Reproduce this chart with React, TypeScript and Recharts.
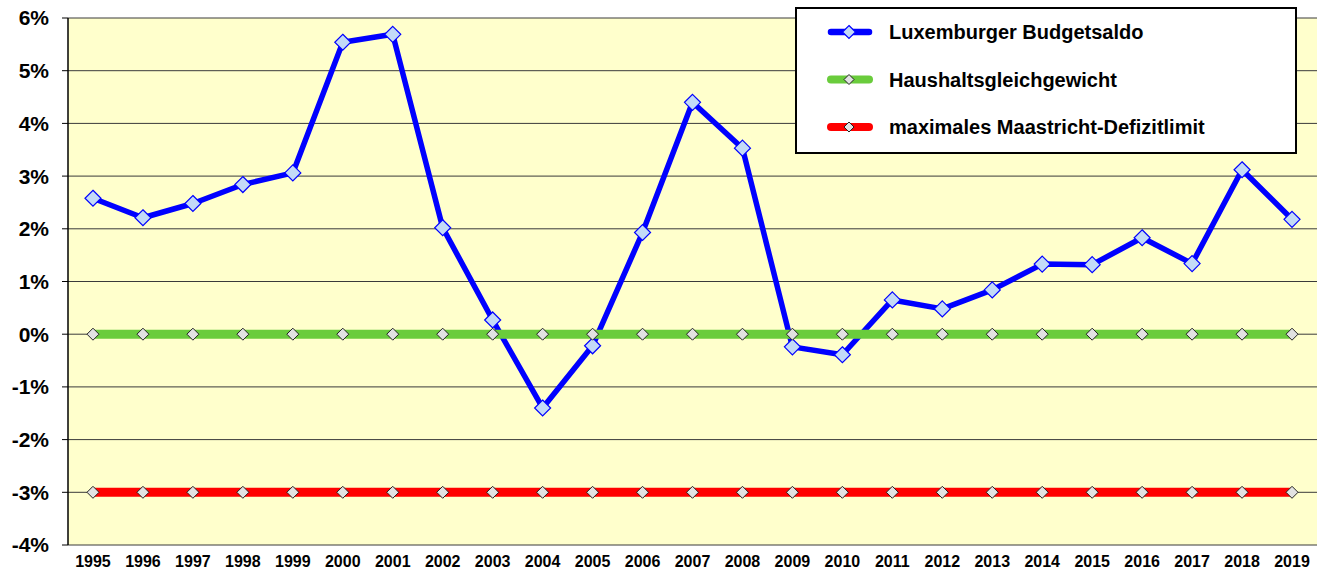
import React from 'react';
import { LineChart, Line, XAxis, YAxis, CartesianGrid, Legend } from 'recharts';

const years = [1995, 1996, 1997, 1998, 1999, 2000, 2001, 2002, 2003, 2004, 2005, 2006, 2007, 2008, 2009, 2010, 2011, 2012, 2013, 2014, 2015, 2016, 2017, 2018, 2019];
const budgetBalance = [2.58, 2.21, 2.48, 2.84, 3.06, 5.54, 5.69, 2.02, 0.27, -1.40, -0.22, 1.93, 4.40, 3.53, -0.24, -0.39, 0.65, 0.48, 0.84, 1.33, 1.32, 1.83, 1.34, 3.12, 2.18];
const equilibrium = [0, 0, 0, 0, 0, 0, 0, 0, 0, 0, 0, 0, 0, 0, 0, 0, 0, 0, 0, 0, 0, 0, 0, 0, 0];
const maastrichtLimit = [-3, -3, -3, -3, -3, -3, -3, -3, -3, -3, -3, -3, -3, -3, -3, -3, -3, -3, -3, -3, -3, -3, -3, -3, -3];
const yTicks = [-4, -3, -2, -1, 0, 1, 2, 3, 4, 5, 6];
const boundaryTicks = [1994.5, 1995.5, 1996.5, 1997.5, 1998.5, 1999.5, 2000.5, 2001.5, 2002.5, 2003.5, 2004.5, 2005.5, 2006.5, 2007.5, 2008.5, 2009.5, 2010.5, 2011.5, 2012.5, 2013.5, 2014.5, 2015.5, 2016.5, 2017.5, 2018.5, 2019.5];

const seriesOrder = ['saldo', 'gleich', 'limit'];
const labels = {
  saldo: 'Luxemburger Budgetsaldo',
  gleich: 'Haushaltsgleichgewicht',
  limit: 'maximales Maastricht-Defizitlimit',
};

const data = years.map((y, i) => ({
  year: y,
  saldo: budgetBalance[i],
  gleich: equilibrium[i],
  limit: maastrichtLimit[i],
}));

const markerStyle: Record<string, { r: number; fill: string; stroke: string; sw: number }> = {
  saldo: { r: 8, fill: '#C3DAF7', stroke: '#0000FF', sw: 1.2 },
  gleich: { r: 6, fill: '#E2E2E2', stroke: '#222222', sw: 1 },
  limit: { r: 6, fill: '#E2E2E2', stroke: '#222222', sw: 1 },
};

const FONT = '"Liberation Sans", Arial, sans-serif';

function diamond(key: string) {
  const m = markerStyle[key];
  return (props: any) => {
    const { cx, cy, index } = props;
    if (cx == null || cy == null) return <g key={index} />;
    const pts = `${cx},${cy - m.r} ${cx + m.r},${cy} ${cx},${cy + m.r} ${cx - m.r},${cy}`;
    return <polygon key={index} points={pts} fill={m.fill} stroke={m.stroke} strokeWidth={m.sw} />;
  };
}

const LegendBox = (props: any) => {
  const payload = [...(props.payload || [])].sort(
    (a: any, b: any) => seriesOrder.indexOf(a.dataKey) - seriesOrder.indexOf(b.dataKey)
  );
  return (
    <svg width={502} height={147} style={{ display: 'block' }}>
      <rect x={1} y={1} width={500} height={145} fill="#FFFFFF" stroke="#000000" strokeWidth={2} />
      {payload.map((entry: any, i: number) => {
        const key = entry.dataKey as string;
        const m = markerStyle[key];
        const cy = 25 + i * 47.5;
        const sw = entry.payload && entry.payload.strokeWidth ? entry.payload.strokeWidth : 5;
        const cx = 54;
        const rr = key === 'saldo' ? 6.5 : 5;
        return (
          <g key={key}>
            <line x1={36} x2={74} y1={cy} y2={cy} stroke={entry.color} strokeWidth={Math.min(sw + 1, 8)} strokeLinecap="round" />
            <polygon
              points={`${cx},${cy - rr} ${cx + rr},${cy} ${cx},${cy + rr} ${cx - rr},${cy}`}
              fill={m.fill}
              stroke={m.stroke}
              strokeWidth={m.sw}
            />
            <text x={94} y={cy + 7} fontFamily={FONT} fontWeight="bold" fontSize={20} fill="#000">
              {entry.value}
            </text>
          </g>
        );
      })}
    </svg>
  );
};

export default function App() {
  return (
    <div style={{ position: 'absolute', left: 0, top: 0, width: 1322, height: 573, background: '#FFFFFF' }}>
      <LineChart
        width={1322}
        height={573}
        data={data}
        margin={{ top: 18, right: 5, bottom: 0, left: 0 }}
      >
        <CartesianGrid vertical={false} fill="#FFFFCC" stroke="#3A3A3A" strokeWidth={1} fillOpacity={1} />
        <XAxis
          xAxisId="marks"
          dataKey="year"
          type="number"
          domain={[1994.5, 2019.5]}
          ticks={boundaryTicks}
          height={0}
          axisLine={{ stroke: '#000', strokeWidth: 1.5 }}
          tickLine={{ stroke: '#000', strokeWidth: 1.5 }}
          tickSize={6}
          tick={() => <g />}
          interval={0}
          allowDataOverflow
        />
        <XAxis
          xAxisId="labels"
          dataKey="year"
          type="number"
          domain={[1994.5, 2019.5]}
          ticks={years}
          height={28}
          axisLine={false}
          tickLine={false}
          tickSize={0}
          tickMargin={11}
          interval={0}
          tick={{ fill: '#000', fontFamily: FONT, fontWeight: 'bold', fontSize: 16 }}
          allowDataOverflow
        />
        <YAxis
          domain={[-4, 6]}
          ticks={yTicks}
          interval={0}
          width={68}
          axisLine={{ stroke: '#000', strokeWidth: 1.5 }}
          tickLine={{ stroke: '#000', strokeWidth: 1 }}
          tickSize={6}
          tickMargin={13}
          tickFormatter={(v: number) => `${v}%`}
          tick={{ fill: '#000', fontFamily: FONT, fontWeight: 'bold', fontSize: 21 }}
        />
        <Legend
          layout="horizontal"
          verticalAlign="middle"
          align="center"
          wrapperStyle={{ left: 795, top: 7, width: 502, height: 147 }}
          content={LegendBox}
        />
        <Line
          xAxisId="marks"
          dataKey="saldo"
          name={labels.saldo}
          stroke="#0000FF"
          strokeWidth={5.5}
          strokeLinejoin="round"
          dot={diamond('saldo')}
          activeDot={false}
          isAnimationActive={false}
        />
        <Line
          xAxisId="marks"
          dataKey="gleich"
          name={labels.gleich}
          stroke="#6ACC3C"
          strokeWidth={9}
          dot={diamond('gleich')}
          activeDot={false}
          isAnimationActive={false}
        />
        <Line
          xAxisId="marks"
          dataKey="limit"
          name={labels.limit}
          stroke="#FF0000"
          strokeWidth={9}
          dot={diamond('limit')}
          activeDot={false}
          isAnimationActive={false}
        />
      </LineChart>
    </div>
  );
}
